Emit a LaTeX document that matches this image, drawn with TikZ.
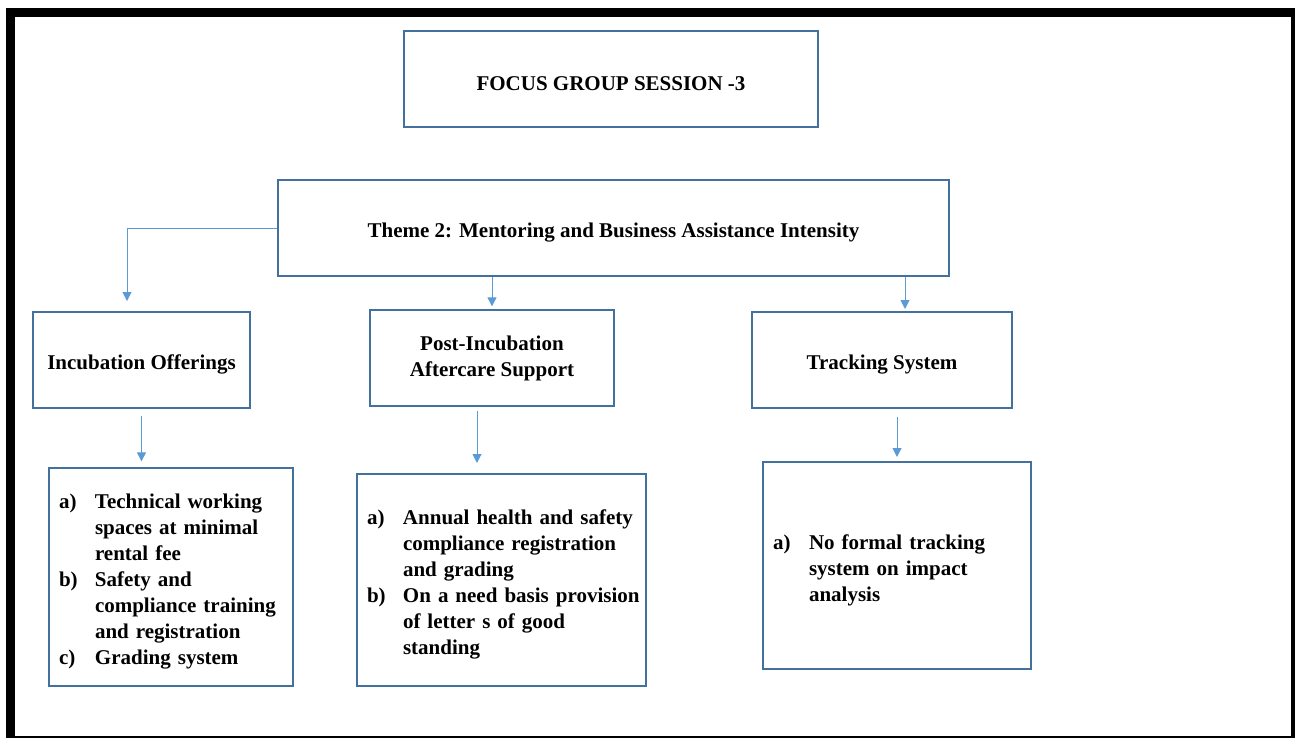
\documentclass[tikz,border=0pt]{standalone}
\usepackage{fontspec}
\setmainfont{Liberation Serif}
\usetikzlibrary{arrows.meta}
\definecolor{boxblue}{HTML}{41719C}
\definecolor{linkblue}{HTML}{5B9BD5}
% list lines: label line and continued line, never broken
\newcommand{\itm}[2]{\mbox{\makebox[36pt][l]{#1}#2}}
\newcommand{\ind}[1]{\mbox{\hspace*{36pt}#1}}

\begin{document}
\begin{tikzpicture}[
    x=1pt, y=-1pt,
    every node/.style={font=\fontsize{21}{26}\selectfont\bfseries},
    block/.style={
        draw=boxblue,
        line width=1.3pt,
        align=center,
        inner sep=0pt,
        minimum height=96pt,
        execute at begin node={\rule{0pt}{23pt}}
    },
    listbox/.style={
        draw=boxblue,
        line width=1.3pt,
        align=left,
        inner xsep=10pt,
        inner ysep=0pt,
        execute at begin node={\rule{0pt}{24pt}}
    },
    link/.style={draw=linkblue, line width=1pt, -{Triangle[length=9pt,width=9pt]}}
]
    \useasboundingbox (0,0) rectangle (1295,738);
    % page frame
    \fill (6,8) rectangle (1295,17);
    \fill (6,8) rectangle (15,738);
    \fill (1291,8) rectangle (1295,738);
    \fill (6,736) rectangle (1295,738);

    \node[block, minimum width=414pt] (focus) at (611,79) {FOCUS GROUP SESSION -3};
    \node[block, minimum width=671pt] (theme) at (613.5,228)
        {Theme 2: Mentoring and Business Assistance Intensity};

    \node[block, minimum width=217pt] (incub) at (141.5,360) {Incubation Offerings};
    \node[block, minimum width=244pt] (post) at (492,358) {Post-Incubation\\Aftercare Support};
    \node[block, minimum width=260pt] (track) at (882,360) {Tracking System};

    \node[listbox, text width=224pt, minimum height=218pt] (incublist) at (171,577)
        {\itm{a)}{Technical working}\\
         \ind{spaces at minimal}\\
         \ind{rental fee}\\
         \itm{b)}{Safety and}\\
         \ind{compliance training}\\
         \ind{and registration}\\
         \itm{c)}{Grading system}};
    \node[listbox, text width=269pt, minimum height=212pt] (postlist) at (501.5,580)
        {\itm{a)}{Annual health and safety}\\
         \ind{compliance registration}\\
         \ind{and grading}\\
         \itm{b)}{On a need basis provision}\\
         \ind{of letter s of good}\\
         \ind{standing}};
    \node[listbox, text width=248pt, minimum height=207pt] (tracklist) at (897,565.5)
        {\itm{a)}{No formal tracking}\\
         \ind{system on impact}\\
         \ind{analysis}};

    % arrow ends
    \coordinate (incubin) at (127,301);
    \coordinate (trackin) at (905,309);
    \coordinate (postout) at (477,463);
    \coordinate (trackout) at (897,457);

    \draw[link] (theme.west) -| (incubin);
    \draw[link, shorten >=3pt] (theme.south -| post.north) -- (post.north);
    \draw[link] (theme.south -| trackin) -- (trackin);
    \draw[link, shorten <=7pt, shorten >=6pt] (incub.south) -- (incub.south |- incublist.north);
    \draw[link, shorten <=4pt] (post.south -| postout) -- (postout);
    \draw[link, shorten <=8pt] (track.south -| trackout) -- (trackout);
\end{tikzpicture}
\end{document}
